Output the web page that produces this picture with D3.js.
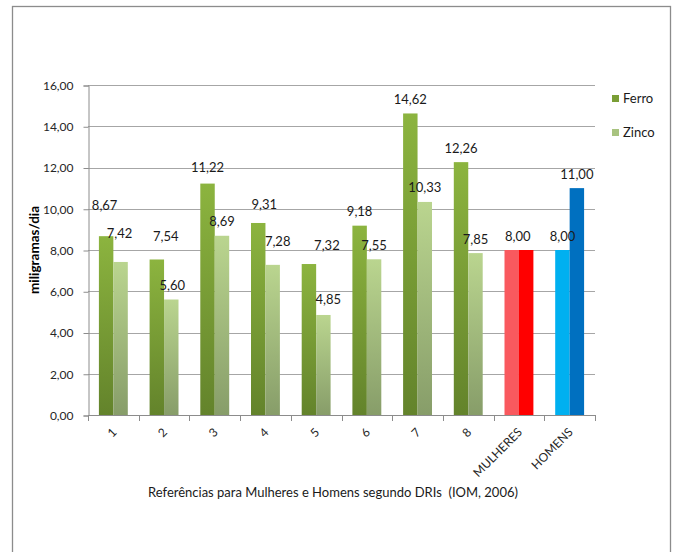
<!DOCTYPE html>
<html>
<head>
<meta charset="utf-8">
<script src="https://cdn.jsdelivr.net/npm/d3@7/dist/d3.min.js"></script>
<style>
  html, body { margin: 0; padding: 0; background: #fff; }
  svg { display: block; }
  text { font-family: Lato, "Liberation Sans", sans-serif; }
</style>
</head>
<body>
<svg id="chart" width="677" height="552"></svg>
<script>
// ---- data ----
const categories = ["1", "2", "3", "4", "5", "6", "7", "8", "MULHERES", "HOMENS"];
const seriesNames = ["Ferro", "Zinco"];
const ferro = [8.67, 7.54, 11.22, 9.31, 7.32, 9.18, 14.62, 12.26, 8.00, 8.00];
const zinco = [7.42, 5.60, 8.69, 7.28, 4.85, 7.55, 10.33, 7.85, 8.00, 11.00];
const yTicks = [0, 2, 4, 6, 8, 10, 12, 14, 16];
const yTitle = "miligramas/dia";
const xTitle = "Referências para Mulheres e Homens segundo DRIs  (IOM, 2006)";

// ---- layout (manual label placement as in the original) ----
const ferroLabelOffsets = [[-1.5,-17],[9,-9.5],[0,-2],[6,-5],[18,-5],[0,0],[0,0],[0,0],[6,0],[0,0]];
const zincoLabelOffsets = [[-1,-15],[1,0],[0,0],[5,-9],[5,-2],[0,0],[0,0],[0,0],null,[0,0]];

const svg = d3.select("#chart");
const plot = { left: 88, right: 595, top: 85, bottom: 415 };

const loc = d3.formatLocale({ decimal: ",", thousands: ".", grouping: [3], currency: ["", ""] });
const fmt = loc.format(".2f");

// frame
svg.append("rect").attr("x", 12.5).attr("y", 6.5).attr("width", 658).attr("height", 560)
  .attr("fill", "#fff").attr("stroke", "#8c8c8c").attr("stroke-width", 1.3);

// gradients
const defs = svg.append("defs");
function grad(id, top, bottom) {
  const g = defs.append("linearGradient").attr("id", id).attr("x1", 0).attr("y1", 0).attr("x2", 0).attr("y2", 1);
  g.append("stop").attr("offset", "0%").attr("stop-color", top);
  g.append("stop").attr("offset", "100%").attr("stop-color", bottom);
}
grad("gFerro", "#8cb43f", "#63832b");
grad("gZinco", "#bad58f", "#879d69");

const x0 = d3.scaleBand().domain(categories).range([plot.left, plot.right])
  .paddingInner(0.43).paddingOuter(0.215);
const x1 = d3.scaleBand().domain(seriesNames).range([0, x0.bandwidth()]);
const y = d3.scaleLinear().domain([0, 16]).range([plot.bottom, plot.top]);

// gridlines
svg.append("g").selectAll("line").data(yTicks.filter(d => d > 0)).join("line")
  .attr("x1", plot.left).attr("x2", plot.right)
  .attr("y1", d => Math.round(y(d)) + 0.5).attr("y2", d => Math.round(y(d)) + 0.5)
  .attr("stroke", "#a6a6a6").attr("stroke-width", 1);

// y axis
const yAxis = d3.axisLeft(y).tickValues(yTicks).tickSize(5).tickPadding(10).tickFormat(fmt);
const gy = svg.append("g").attr("transform", `translate(${plot.left + 0.5},0.5)`).call(yAxis);
gy.select(".domain").attr("stroke", "#8c8c8c");
gy.selectAll(".tick line").attr("stroke", "#8c8c8c");
gy.selectAll(".tick text").attr("font-size", 12).attr("fill", "#262626")
  .attr("font-family", "Lato, sans-serif");

// colors per point
const specialColors = {
  "MULHERES": { Ferro: "#f9595e", Zinco: "#ff0000" },
  "HOMENS": { Ferro: "#00b0f0", Zinco: "#0070c0" }
};
function fillFor(cat, s) {
  if (specialColors[cat]) return specialColors[cat][s];
  return s === "Ferro" ? "url(#gFerro)" : "url(#gZinco)";
}

const rows = categories.map((c, i) => ({ cat: c, i, vals: [
  { s: "Ferro", v: ferro[i], off: ferroLabelOffsets[i] },
  { s: "Zinco", v: zinco[i], off: zincoLabelOffsets[i] }
]}));

const groups = svg.append("g").selectAll("g").data(rows).join("g")
  .attr("transform", d => `translate(${x0(d.cat)},0)`);

groups.selectAll("rect").data(d => d.vals.map(v => ({ ...v, cat: d.cat }))).join("rect")
  .attr("x", d => x1(d.s))
  .attr("y", d => y(d.v))
  .attr("width", x1.bandwidth())
  .attr("height", d => y(0) - y(d.v))
  .attr("fill", d => fillFor(d.cat, d.s));

// x axis
svg.append("line").attr("x1", plot.left).attr("x2", plot.right)
  .attr("y1", plot.bottom + 0.5).attr("y2", plot.bottom + 0.5).attr("stroke", "#8c8c8c");
const step = x0.step();
svg.append("g").selectAll("line").data(d3.range(categories.length + 1)).join("line")
  .attr("x1", i => Math.round(plot.left + i * step) + 0.5)
  .attr("x2", i => Math.round(plot.left + i * step) + 0.5)
  .attr("y1", plot.bottom).attr("y2", plot.bottom + 6)
  .attr("stroke", "#8c8c8c");

svg.append("g").selectAll("text").data(categories).join("text")
  .attr("transform", d => `translate(${x0(d) + x0.bandwidth() / 2 + 4},${plot.bottom + 18}) rotate(-45)`)
  .attr("text-anchor", "end")
  .attr("font-size", 12).attr("fill", "#262626")
  .text(d => d);

// data labels
groups.selectAll("text").data(d => d.vals.filter(v => v.off).map(v => ({ ...v, cat: d.cat }))).join("text")
  .attr("x", d => x1(d.s) + x1.bandwidth() / 2 + d.off[0])
  .attr("y", d => y(d.v) - 14 + d.off[1])
  .attr("dy", "0.35em")
  .attr("text-anchor", "middle")
  .attr("font-size", 13).attr("fill", "#1a1a1a")
  .text(d => fmt(d.v));

// y title
svg.append("text")
  .attr("transform", `translate(34,${(plot.top + plot.bottom) / 2}) rotate(-90)`)
  .attr("text-anchor", "middle").attr("dy", "0.35em")
  .attr("font-size", 13.5).attr("font-weight", "bold").attr("fill", "#000")
  .text(yTitle);

// x title
svg.append("text")
  .attr("x", 333).attr("y", 492).attr("dy", "0.35em")
  .attr("text-anchor", "middle").attr("font-size", 13).attr("fill", "#1a1a1a")
  .style("white-space", "pre")
  .text(xTitle);

// legend
const legend = svg.append("g").selectAll("g").data(seriesNames).join("g")
  .attr("transform", (d, i) => `translate(612,${95 + i * 34})`);
legend.append("rect").attr("width", 7).attr("height", 7)
  .attr("fill", d => d === "Ferro" ? "#7a9e35" : "#a8c37f");
legend.append("text").attr("x", 11).attr("y", 3.5).attr("dy", "0.35em")
  .attr("font-size", 13).attr("fill", "#1a1a1a").text(d => d);
</script>
</body>
</html>
